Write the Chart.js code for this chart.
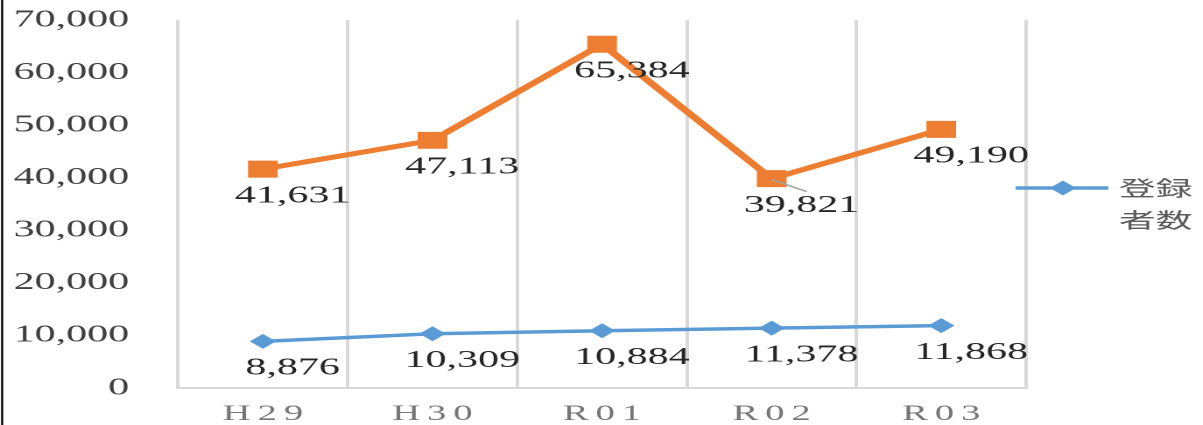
<!DOCTYPE html>
<html>
<head>
<meta charset="utf-8">
<script src="https://cdn.jsdelivr.net/npm/chart.js@4.4.0/dist/chart.umd.min.js"></script>
<style>
  html, body { margin: 0; padding: 0; background: #fff; overflow: hidden; }
  #wrap { width: 1203px; height: 425px; position: relative; }
  /* the reference is stretched sideways, so the canvas is too */
  #chart { position: absolute; left: 0; top: 0; transform: scaleX(1.751); transform-origin: 0 0; }
</style>
</head>
<body>
<div id="wrap"><canvas id="chart" width="687" height="425"></canvas></div>
<script>
// chart data
const years = ['H29', 'H30', 'R01', 'R02', 'R03'];
const registered = [8876, 10309, 10884, 11378, 11868];
const upperSeries = [41631, 47113, 65384, 39821, 49190];
const legendText = ['登録', '者数'];

const BLUE = '#5B9BD5';
const ORANGE = '#ED7D31';
const fmt = v => v.toLocaleString('en-US');

const extras = {
  id: 'extras',
  afterDatasetsDraw(chart) {
    const ctx = chart.ctx;
    ctx.save();
    // leader line for the moved R02 label
    const p = chart.getDatasetMeta(1).data[3];
    ctx.strokeStyle = '#a6a6a6';
    ctx.lineWidth = 1.5;
    ctx.beginPath();
    ctx.moveTo(p.x, p.y + 1);
    ctx.lineTo(p.x + 20, p.y + 13);
    ctx.stroke();

    // value labels
    ctx.font = '24px "Liberation Serif"';
    ctx.fillStyle = '#262626';
    ctx.textAlign = 'center';
    ctx.textBaseline = 'middle';
    chart.data.datasets.forEach((ds, di) => {
      chart.getDatasetMeta(di).data.forEach((pt, i) => {
        ctx.fillText(fmt(ds.data[i]), pt.x + 17, pt.y + 27);
      });
    });
    ctx.restore();
  },
  afterDraw(chart) {
    const ctx = chart.ctx;
    const xs = chart.scales.x;
    ctx.save();
    // category labels, letter spaced
    ctx.font = '22px "Liberation Serif"';
    ctx.fillStyle = '#767676';
    ctx.textAlign = 'center';
    ctx.textBaseline = 'middle';
    ctx.letterSpacing = '4px';
    years.forEach((y, i) => {
      ctx.fillText(y, xs.getPixelForValue(i) + 2, 414);
    });
    ctx.letterSpacing = '0px';

    // legend (only the blue series)
    const ly = 188;
    ctx.strokeStyle = BLUE;
    ctx.lineWidth = 3.5;
    ctx.beginPath();
    ctx.moveTo(580, ly);
    ctx.lineTo(633, ly);
    ctx.stroke();
    ctx.fillStyle = BLUE;
    ctx.beginPath();
    ctx.moveTo(607 - 7.5, ly);
    ctx.lineTo(607, ly - 7.5);
    ctx.lineTo(607 + 7.5, ly);
    ctx.lineTo(607, ly + 7.5);
    ctx.closePath();
    ctx.fill();
    ctx.font = '21px "Noto Sans CJK JP"';
    ctx.fillStyle = '#595959';
    ctx.textAlign = 'left';
    legendText.forEach((t, i) => ctx.fillText(t, 639, ly + i * 32));

    // left frame line
    ctx.fillStyle = '#000';
    ctx.fillRect(0.6, 0, 1.2, chart.height);
    ctx.restore();
  }
};

new Chart(document.getElementById('chart'), {
  type: 'line',
  data: {
    labels: years,
    datasets: [
      {
        label: legendText.join(''),
        data: registered,
        borderColor: BLUE,
        backgroundColor: BLUE,
        borderWidth: 3.5,
        pointStyle: 'rectRot',
        pointRadius: 7.5,
        pointBorderWidth: 0,
        tension: 0
      },
      {
        label: '',
        data: upperSeries,
        borderColor: ORANGE,
        backgroundColor: ORANGE,
        borderWidth: 5,
        pointStyle: 'rect',
        pointRadius: 12,
        pointBorderWidth: 0,
        tension: 0
      }
    ]
  },
  options: {
    responsive: false,
    animation: false,
    devicePixelRatio: 2,
    layout: { padding: { top: 20, right: 101, bottom: 37, left: 0 } },
    plugins: {
      legend: { display: false },
      tooltip: { enabled: false }
    },
    scales: {
      x: {
        offset: true,
        grid: { color: '#d9d9d9', lineWidth: 2, drawTicks: false, offset: true },
        border: { color: '#d9d9d9', width: 2 },
        ticks: { display: false },
        afterFit(scale) { scale.height = 0; scale.paddingLeft = 0; scale.paddingRight = 0; }
      },
      y: {
        min: 0,
        max: 70000,
        grid: { display: false, drawTicks: false },
        border: { display: false },
        afterFit(scale) { scale.width = 101.7; scale.paddingTop = 0; scale.paddingBottom = 0; },
        ticks: {
          stepSize: 10000,
          padding: 28,
          color: '#404040',
          font: { family: 'Liberation Serif', size: 24 },
          callback: v => fmt(v)
        }
      }
    }
  },
  plugins: [extras]
});
</script>
</body>
</html>
